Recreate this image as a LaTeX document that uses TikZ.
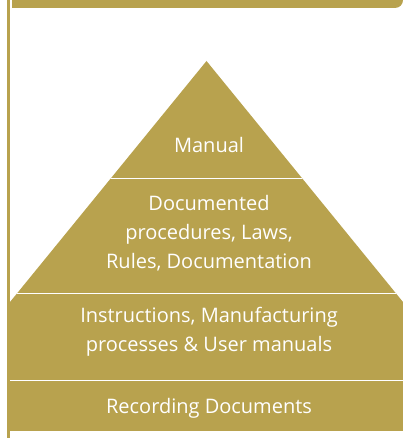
\documentclass[tikz,border=0pt]{standalone}
\usepackage{fontspec}
\setmainfont{Open Sans}
\definecolor{gold}{HTML}{B8A24E}
\begin{document}
\begin{tikzpicture}[x=1pt,y=1pt,
  layer/.style={text=white,font=\fontsize{20}{29}\selectfont,align=center,anchor=base},
  divider/.style={draw=white,line width=1pt}
  ]
\useasboundingbox (0,0) rectangle (403,438);
% left rule and header bar
\draw[gold,line width=2.5pt] (8.5,0) -- (8.5,438);
\fill[gold] (12,438) -- (12,430) -- (395,430) arc[start angle=-90,end angle=0,radius=8] -- cycle;
% pyramid
\fill[gold] (10,7) -- (10,136) -- (206.5,377) -- (403,136) -- (403,7) -- cycle;
\begin{scope}
  \clip (10,7) -- (10,136) -- (206.5,377) -- (403,136) -- (403,7) -- cycle;
  \draw[divider] (0,259) -- (403,259);
  \draw[divider] (0,144) -- (403,144);
  \draw[divider] (0,57) -- (403,57);
\end{scope}
% layers (base = last line)
\node[layer] (manual) at (209,285) {Manual};
\node[layer] (documented) at (209,169) {Documented\\procedures, Laws,\\Rules, Documentation};
\node[layer] (instructions) at (209,86) {Instructions, Manufacturing\\processes \& User manuals};
\node[layer] (recording) at (209,24) {Recording Documents};
\end{tikzpicture}
\end{document}
